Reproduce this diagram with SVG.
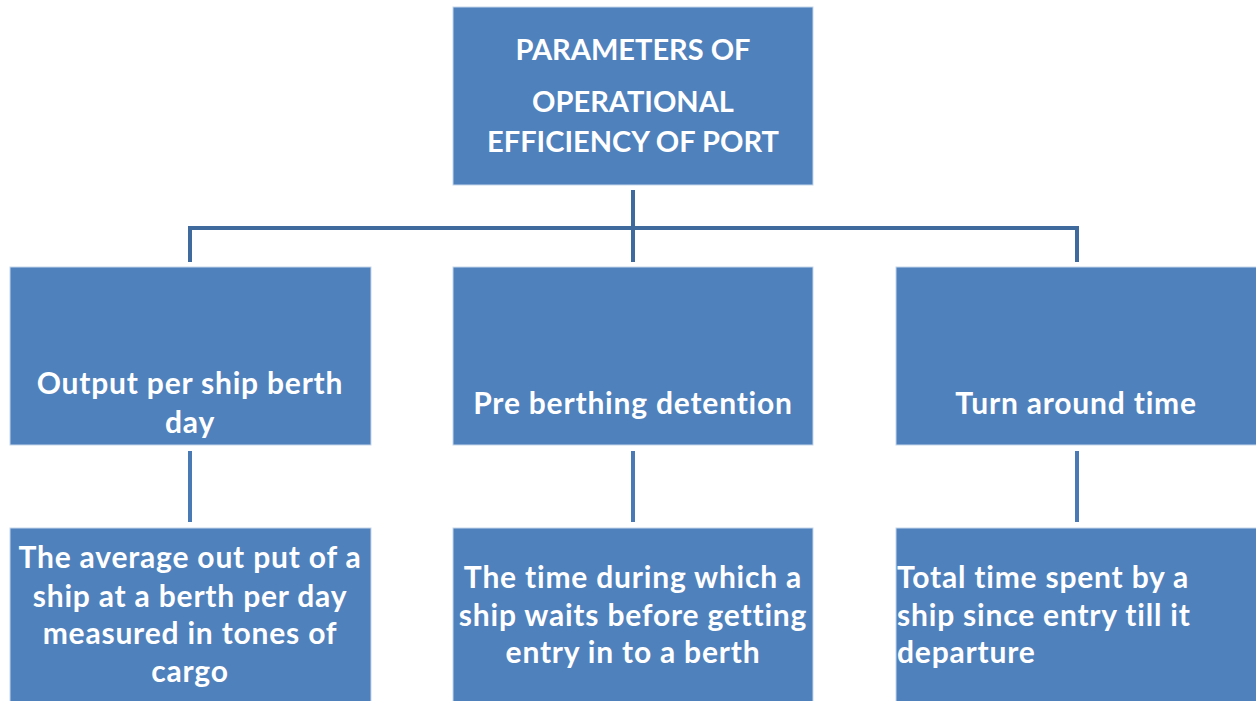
<svg xmlns="http://www.w3.org/2000/svg" width="1256" height="701" viewBox="0 0 1256 701">
<style>
.box{fill:#4F81BD;stroke:#C5D5EA;stroke-width:1}
.t{font-family:Lato,"Open Sans","Liberation Sans",sans-serif;font-weight:bold;fill:#FFFFFF;font-size:30px;letter-spacing:0.8px}
.h{font-size:29px;letter-spacing:0}
.c{text-anchor:middle}
.ln{stroke:#3F6A9E;stroke-width:4;fill:none}
.ln2{stroke:#4A7AB4;stroke-width:4;fill:none}
</style>
<rect width="1256" height="701" fill="#FFFFFF"/>
<g id="connectors">
<path class="ln" d="M633 190V262M190 262V228H1077V262"/>
<path class="ln2" d="M190 451V522M633 451V522M1077 451V522"/>
</g>
<g id="root">
<rect class="box" x="453" y="7" width="360" height="178"/>
<text class="t h c" x="633" y="60">PARAMETERS OF</text>
<text class="t h c" x="633" y="112">OPERATIONAL</text>
<text class="t h c" x="633" y="152">EFFICIENCY OF PORT</text>
</g>
<g id="n1">
<rect class="box" x="10" y="267" width="361" height="178"/>
<text class="t c" x="190" y="394">Output per ship berth</text>
<text class="t c" x="190" y="433">day</text>
</g>
<g id="n2">
<rect class="box" x="453" y="267" width="360" height="178"/>
<text class="t c" x="633" y="414">Pre berthing detention</text>
</g>
<g id="n3">
<rect class="box" x="896" y="267" width="361" height="178"/>
<text class="t c" x="1076" y="414">Turn around time</text>
</g>
<g id="d1">
<rect class="box" x="10" y="528" width="361" height="180"/>
<text class="t c" x="190" y="568">The average out put of a</text>
<text class="t c" x="190" y="607">ship at a berth per day</text>
<text class="t c" x="190" y="644">measured in tones of</text>
<text class="t c" x="190" y="682">cargo</text>
</g>
<g id="d2">
<rect class="box" x="453" y="528" width="360" height="180"/>
<text class="t c" x="633" y="588">The time during which a</text>
<text class="t c" x="633" y="626">ship waits before getting</text>
<text class="t c" x="633" y="663">entry in to a berth</text>
</g>
<g id="d3">
<rect class="box" x="896" y="528" width="361" height="180"/>
<text class="t" x="897" y="588">Total time spent by a</text>
<text class="t" x="897" y="626">ship since entry till it</text>
<text class="t" x="897" y="663">departure</text>
</g>
</svg>
